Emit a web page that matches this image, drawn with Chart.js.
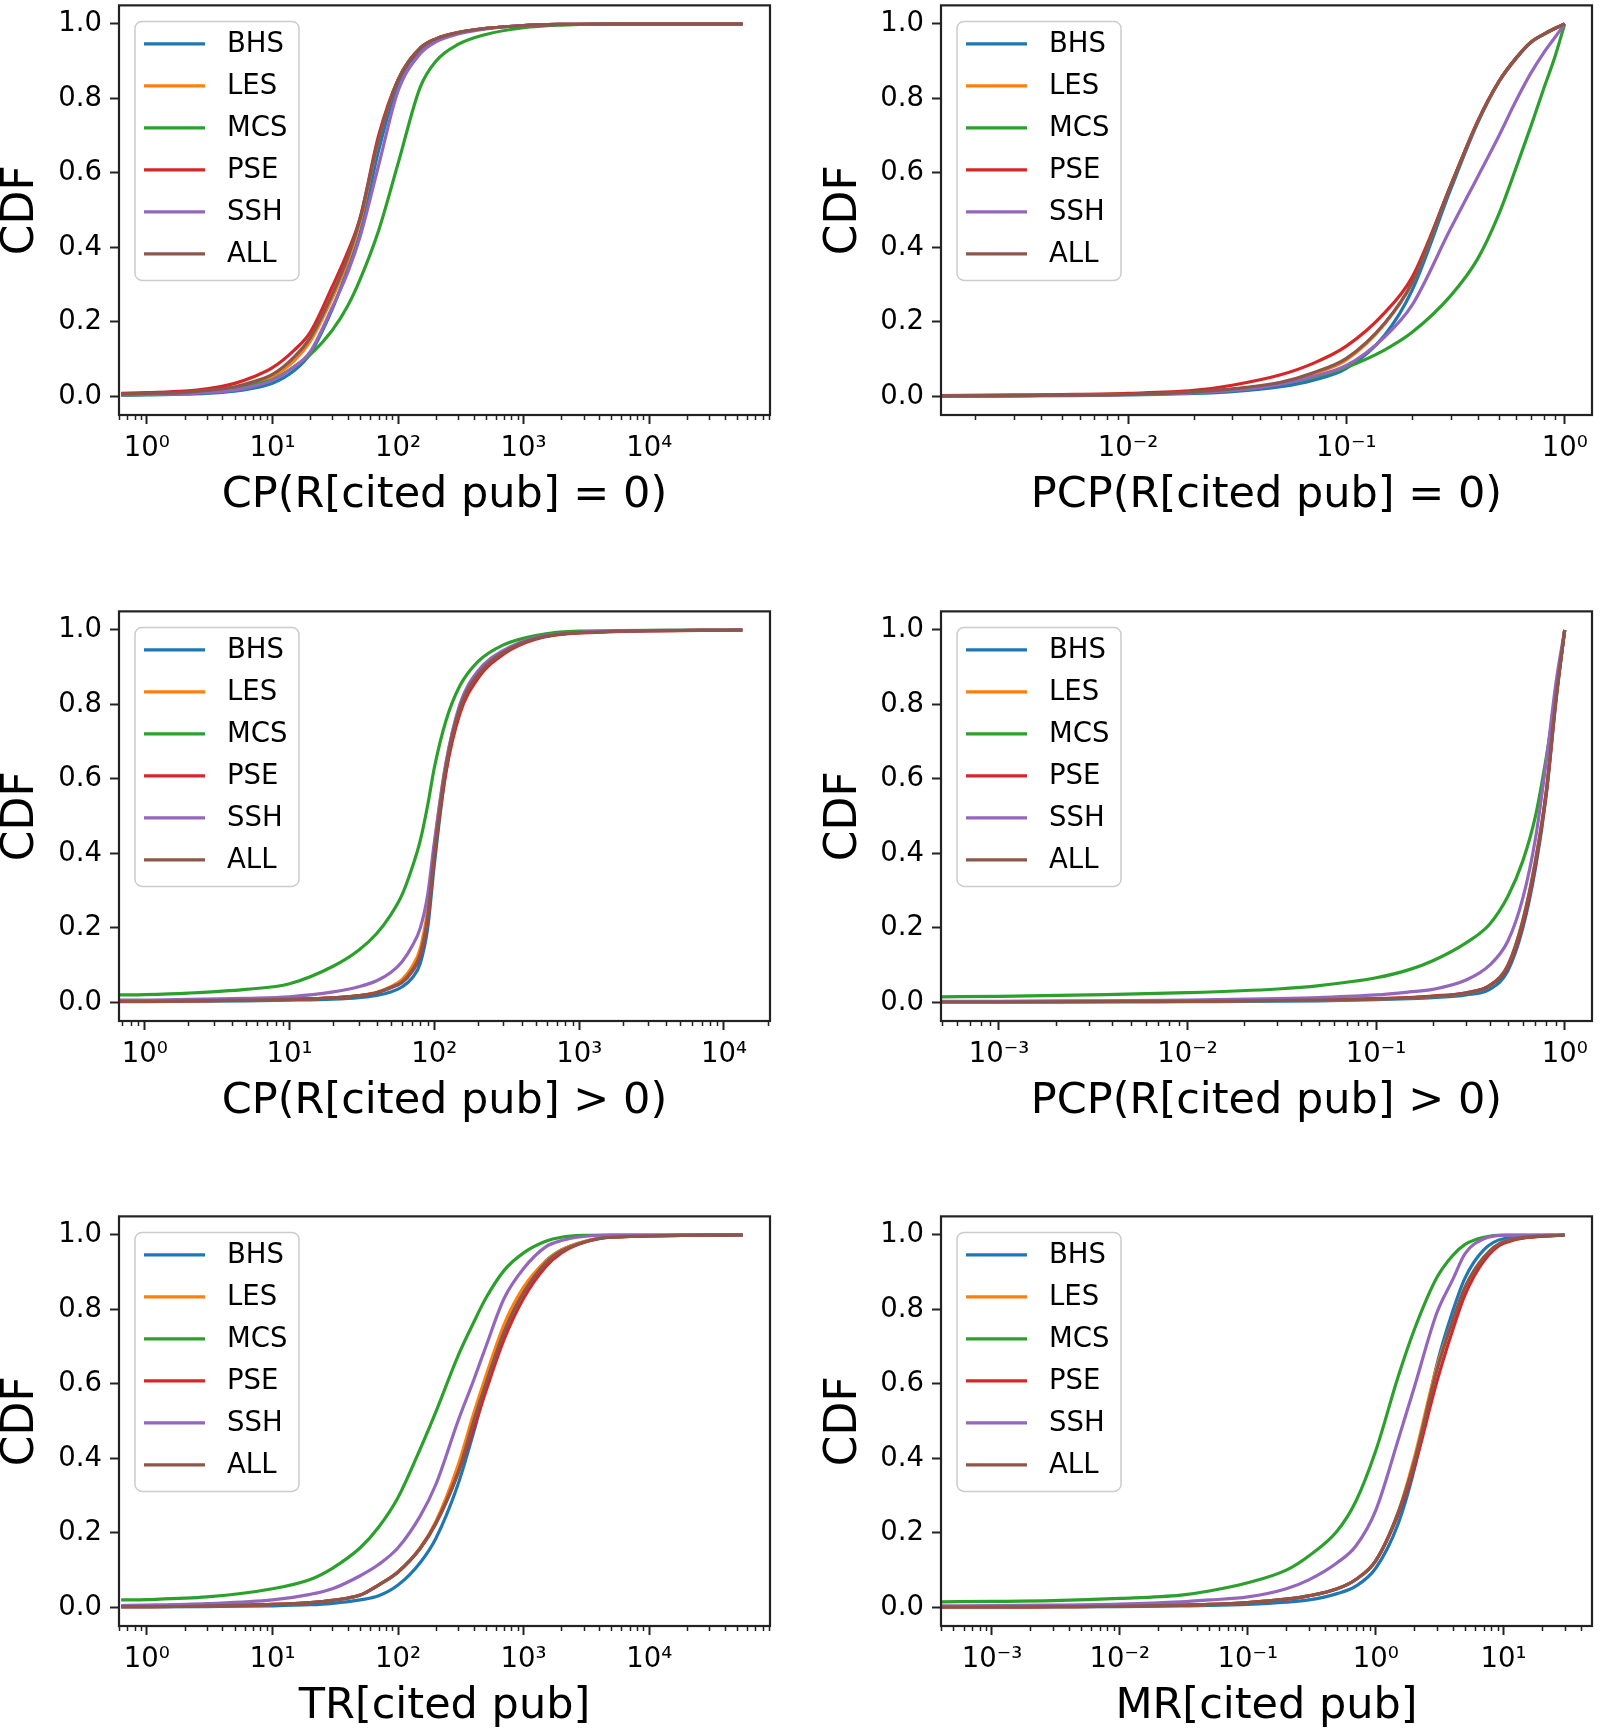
<!DOCTYPE html>
<html>
<head>
<meta charset="utf-8">
<script src="https://cdn.jsdelivr.net/npm/chart.js@4.4.1/dist/chart.umd.min.js"></script>
<style>
  body { margin: 0; background: #fff; width: 1600px; height: 1733px; overflow: hidden; position: relative; }
  .panel { position: absolute; }
</style>
</head>
<body>
<div class="panel" style="left:0;top:-4px"><canvas id="c1" width="800" height="524"></canvas></div>
<div class="panel" style="left:800px;top:-4px"><canvas id="c2" width="800" height="524"></canvas></div>
<div class="panel" style="left:0;top:602px"><canvas id="c3" width="800" height="524"></canvas></div>
<div class="panel" style="left:800px;top:602px"><canvas id="c4" width="800" height="524"></canvas></div>
<div class="panel" style="left:0;top:1207px"><canvas id="c5" width="800" height="524"></canvas></div>
<div class="panel" style="left:800px;top:1207px"><canvas id="c6" width="800" height="524"></canvas></div>
<script>
const groups = ['BHS', 'LES', 'MCS', 'PSE', 'SSH', 'ALL'];
const colors = ['#1f77b4', '#ff7f0e', '#2ca02c', '#d62728', '#9467bd', '#8c564b'];
const yTicks = [0, 0.2, 0.4, 0.6, 0.8, 1.0];

// CP(R[cited pub] = 0)
const cp0X   = [0.624, 1, 2, 3, 5, 7, 10, 15, 20, 30, 40, 50, 70, 100, 150, 200, 300, 500, 1000, 2000, 5000, 55500];
const cp0BHS = [0.003, 0.004, 0.006, 0.008, 0.014, 0.022, 0.035, 0.07, 0.115, 0.235, 0.345, 0.44, 0.66, 0.84, 0.93, 0.958, 0.976, 0.988, 0.996, 0.999, 1, 1];
const cp0LES = [0.005, 0.007, 0.01, 0.014, 0.023, 0.034, 0.053, 0.097, 0.148, 0.265, 0.365, 0.47, 0.69, 0.85, 0.935, 0.96, 0.977, 0.988, 0.996, 0.999, 1, 1];
const cp0MCS = [0.004, 0.005, 0.008, 0.012, 0.021, 0.032, 0.045, 0.08, 0.112, 0.178, 0.245, 0.315, 0.445, 0.625, 0.83, 0.9, 0.945, 0.972, 0.99, 0.997, 1, 1];
const cp0PSE = [0.008, 0.01, 0.014, 0.02, 0.035, 0.052, 0.077, 0.125, 0.172, 0.295, 0.39, 0.48, 0.70, 0.85, 0.935, 0.96, 0.977, 0.988, 0.996, 0.999, 1, 1];
const cp0SSH = [0.004, 0.005, 0.007, 0.01, 0.017, 0.027, 0.043, 0.08, 0.12, 0.24, 0.335, 0.43, 0.62, 0.82, 0.92, 0.952, 0.973, 0.987, 0.996, 0.999, 1, 1];
const cp0ALL = [0.006, 0.008, 0.011, 0.016, 0.026, 0.039, 0.059, 0.107, 0.158, 0.275, 0.375, 0.48, 0.69, 0.85, 0.935, 0.96, 0.977, 0.988, 0.996, 0.999, 1, 1];

// PCP(R[cited pub] = 0)
const pcp0X   = [0.00139, 0.003, 0.005, 0.01, 0.02, 0.03, 0.05, 0.07, 0.1, 0.15, 0.2, 0.3, 0.4, 0.5, 0.6, 0.7, 0.8, 0.9, 1.0];
const pcp0BHS = [0.0005, 0.001, 0.002, 0.004, 0.008, 0.013, 0.026, 0.043, 0.075, 0.165, 0.285, 0.555, 0.735, 0.845, 0.908, 0.95, 0.972, 0.988, 1];
const pcp0LES = [0.001, 0.002, 0.003, 0.005, 0.011, 0.018, 0.036, 0.06, 0.098, 0.195, 0.305, 0.565, 0.738, 0.846, 0.909, 0.951, 0.972, 0.988, 1];
const pcp0MCS = [0.001, 0.002, 0.003, 0.006, 0.012, 0.019, 0.034, 0.05, 0.078, 0.125, 0.172, 0.27, 0.37, 0.49, 0.615, 0.725, 0.825, 0.91, 1];
const pcp0PSE = [0.002, 0.004, 0.005, 0.008, 0.016, 0.03, 0.058, 0.088, 0.135, 0.225, 0.32, 0.565, 0.74, 0.846, 0.909, 0.951, 0.972, 0.988, 1];
const pcp0SSH = [0.001, 0.002, 0.003, 0.005, 0.01, 0.016, 0.033, 0.053, 0.083, 0.16, 0.245, 0.45, 0.59, 0.70, 0.795, 0.868, 0.922, 0.963, 1];
const pcp0ALL = [0.001, 0.002, 0.003, 0.005, 0.012, 0.02, 0.038, 0.063, 0.102, 0.197, 0.305, 0.565, 0.738, 0.846, 0.909, 0.951, 0.972, 0.988, 1];

// CP(R[cited pub] > 0)
const cpPosX   = [0.664, 1, 2, 5, 10, 20, 30, 40, 50, 60, 70, 80, 90, 100, 120, 150, 200, 300, 500, 1000, 13400];
const cpPosBHS = [0.002, 0.002, 0.003, 0.004, 0.006, 0.009, 0.013, 0.019, 0.028, 0.042, 0.065, 0.105, 0.2, 0.37, 0.62, 0.785, 0.878, 0.94, 0.977, 0.993, 1];
const cpPosLES = [0.003, 0.003, 0.004, 0.006, 0.008, 0.012, 0.018, 0.027, 0.042, 0.062, 0.095, 0.145, 0.25, 0.42, 0.64, 0.795, 0.882, 0.94, 0.977, 0.993, 1];
const cpPosMCS = [0.02, 0.021, 0.025, 0.035, 0.05, 0.097, 0.14, 0.185, 0.235, 0.29, 0.36, 0.435, 0.53, 0.63, 0.755, 0.85, 0.915, 0.96, 0.985, 0.997, 1];
const cpPosPSE = [0.003, 0.003, 0.004, 0.006, 0.008, 0.012, 0.018, 0.026, 0.039, 0.054, 0.082, 0.125, 0.22, 0.39, 0.615, 0.775, 0.87, 0.935, 0.975, 0.992, 1];
const cpPosSSH = [0.006, 0.006, 0.008, 0.011, 0.015, 0.028, 0.042, 0.058, 0.08, 0.11, 0.15, 0.2, 0.29, 0.43, 0.64, 0.8, 0.89, 0.945, 0.98, 0.994, 1];
const cpPosALL = [0.003, 0.003, 0.004, 0.006, 0.008, 0.012, 0.018, 0.026, 0.04, 0.055, 0.085, 0.13, 0.23, 0.40, 0.63, 0.79, 0.88, 0.94, 0.977, 0.993, 1];

// PCP(R[cited pub] > 0)
const pcpPosX   = [0.000493, 0.001, 0.003, 0.01, 0.03, 0.05, 0.1, 0.15, 0.2, 0.3, 0.4, 0.5, 0.6, 0.7, 0.8, 0.9, 1.0];
const pcpPosBHS = [0.001, 0.001, 0.001, 0.002, 0.003, 0.004, 0.007, 0.01, 0.013, 0.02, 0.035, 0.085, 0.2, 0.36, 0.56, 0.81, 1];
const pcpPosLES = [0.001, 0.001, 0.002, 0.003, 0.005, 0.006, 0.009, 0.012, 0.016, 0.025, 0.045, 0.1, 0.22, 0.38, 0.57, 0.82, 1];
const pcpPosMCS = [0.015, 0.016, 0.02, 0.026, 0.036, 0.045, 0.066, 0.088, 0.112, 0.16, 0.21, 0.285, 0.38, 0.5, 0.66, 0.83, 1];
const pcpPosPSE = [0.002, 0.002, 0.003, 0.004, 0.006, 0.007, 0.01, 0.013, 0.017, 0.026, 0.045, 0.095, 0.21, 0.37, 0.565, 0.815, 1];
const pcpPosSSH = [0.003, 0.003, 0.004, 0.006, 0.01, 0.013, 0.02, 0.028, 0.035, 0.06, 0.1, 0.165, 0.28, 0.44, 0.65, 0.86, 1];
const pcpPosALL = [0.001, 0.001, 0.002, 0.003, 0.005, 0.006, 0.009, 0.012, 0.016, 0.025, 0.045, 0.1, 0.22, 0.38, 0.57, 0.82, 1];

// TR[cited pub]
const trX   = [0.624, 1, 3, 10, 20, 30, 50, 70, 100, 150, 200, 300, 400, 500, 700, 1000, 1500, 2000, 3000, 5000, 55500];
const trBHS = [0.001, 0.001, 0.002, 0.004, 0.007, 0.011, 0.02, 0.031, 0.06, 0.12, 0.185, 0.33, 0.47, 0.59, 0.74, 0.85, 0.93, 0.96, 0.982, 0.995, 1];
const trLES = [0.002, 0.002, 0.004, 0.008, 0.013, 0.019, 0.033, 0.06, 0.095, 0.16, 0.23, 0.38, 0.52, 0.62, 0.76, 0.86, 0.93, 0.96, 0.982, 0.995, 1];
const trMCS = [0.02, 0.021, 0.028, 0.05, 0.075, 0.105, 0.16, 0.215, 0.295, 0.425, 0.525, 0.675, 0.765, 0.83, 0.905, 0.952, 0.983, 0.994, 0.999, 1, 1];
const trPSE = [0.002, 0.002, 0.004, 0.008, 0.013, 0.019, 0.033, 0.06, 0.095, 0.158, 0.225, 0.36, 0.48, 0.58, 0.72, 0.83, 0.915, 0.952, 0.98, 0.994, 1];
const trSSH = [0.005, 0.006, 0.01, 0.02, 0.035, 0.05, 0.085, 0.115, 0.16, 0.245, 0.33, 0.5, 0.61, 0.70, 0.83, 0.91, 0.968, 0.985, 0.996, 1, 1];
const trALL = [0.002, 0.002, 0.004, 0.008, 0.013, 0.019, 0.033, 0.06, 0.095, 0.158, 0.225, 0.36, 0.5, 0.6, 0.74, 0.845, 0.925, 0.957, 0.98, 0.994, 1];

// MR[cited pub]
const mrX   = [0.0004, 0.001, 0.003, 0.01, 0.03, 0.05, 0.1, 0.2, 0.3, 0.5, 0.7, 1, 1.5, 2, 3, 4, 5, 7, 10, 30];
const mrBHS = [0.001, 0.001, 0.001, 0.002, 0.004, 0.005, 0.008, 0.014, 0.02, 0.037, 0.057, 0.105, 0.225, 0.37, 0.65, 0.795, 0.885, 0.96, 0.99, 1];
const mrLES = [0.001, 0.001, 0.002, 0.003, 0.006, 0.008, 0.013, 0.022, 0.031, 0.05, 0.075, 0.125, 0.255, 0.4, 0.645, 0.77, 0.86, 0.94, 0.982, 1];
const mrMCS = [0.015, 0.016, 0.018, 0.024, 0.033, 0.044, 0.066, 0.1, 0.138, 0.205, 0.285, 0.42, 0.62, 0.745, 0.885, 0.945, 0.975, 0.994, 1, 1];
const mrPSE = [0.001, 0.001, 0.002, 0.003, 0.006, 0.008, 0.013, 0.022, 0.031, 0.05, 0.075, 0.125, 0.25, 0.375, 0.605, 0.745, 0.84, 0.93, 0.978, 1];
const mrSSH = [0.004, 0.005, 0.006, 0.009, 0.015, 0.02, 0.028, 0.05, 0.074, 0.12, 0.165, 0.26, 0.45, 0.59, 0.79, 0.88, 0.95, 0.99, 0.999, 1];
const mrALL = [0.001, 0.001, 0.002, 0.003, 0.006, 0.008, 0.013, 0.022, 0.031, 0.05, 0.075, 0.125, 0.255, 0.39, 0.635, 0.77, 0.86, 0.94, 0.982, 1];

Chart.defaults.font.family = "'DejaVu Sans', sans-serif";
Chart.defaults.color = '#000';

const sup = { '-': '\u207b', '0': '\u2070', '1': '\u00b9', '2': '\u00b2', '3': '\u00b3', '4': '\u2074' };
function decadeLabel(v) {
  const e = Math.round(Math.log10(v));
  return '10' + String(e).split('').map(c => sup[c]).join('');
}

// frame, minor log ticks and the in-axes legend (matplotlib look)
const mplLook = {
  id: 'mplLook',
  afterDatasetsDraw(chart) {
    const ctx = chart.ctx;
    const a = chart.chartArea;
    const xs = chart.scales.x;
    ctx.save();
    ctx.strokeStyle = '#222';
    ctx.lineWidth = 1.5;
    ctx.beginPath();
    const e0 = Math.floor(Math.log10(xs.min)), e1 = Math.ceil(Math.log10(xs.max));
    for (let e = e0; e <= e1; e++) {
      for (let m = 2; m <= 9; m++) {
        const v = m * Math.pow(10, e);
        if (v < xs.min || v > xs.max) continue;
        const px = Math.round(xs.getPixelForValue(v)) + 0.5;
        ctx.moveTo(px, a.bottom);
        ctx.lineTo(px, a.bottom + 5);
      }
    }
    ctx.stroke();

    // legend box
    const L = a.left + 16, T = a.top + 16;
    ctx.fillStyle = 'rgba(255,255,255,0.8)';
    ctx.strokeStyle = '#cccccc';
    ctx.lineWidth = 1.5;
    ctx.beginPath();
    ctx.roundRect(L, T, 164, 259, 7);
    ctx.fill();
    ctx.stroke();
    ctx.font = "27.5px 'DejaVu Sans'";
    ctx.textBaseline = 'middle';
    ctx.textAlign = 'left';
    chart.data.datasets.forEach((ds, i) => {
      const y = T + 22.5 + i * 42;
      ctx.strokeStyle = ds.borderColor;
      ctx.lineWidth = 3.2;
      ctx.beginPath();
      ctx.moveTo(L + 9, y);
      ctx.lineTo(L + 70, y);
      ctx.stroke();
      ctx.fillStyle = '#000';
      ctx.fillText(ds.label, L + 92, y + 1);
    });

    // axes frame
    ctx.strokeStyle = '#222';
    ctx.lineWidth = 2.2;
    ctx.strokeRect(a.left, a.top, a.right - a.left, a.bottom - a.top);
    ctx.restore();
  }
};

function makePanel(id, xs, series, xMin, xMax, xTitle, rightCol) {
  const datasets = series.map((ys, i) => ({
    label: groups[i],
    data: xs.map((x, j) => ({ x: x, y: ys[j] })),
    borderColor: colors[i],
    backgroundColor: colors[i],
    borderWidth: 3.2,
    pointRadius: 0,
    cubicInterpolationMode: 'monotone',
    order: series.length - 1 - i
  }));
  new Chart(document.getElementById(id).getContext('2d'), {
    type: 'line',
    data: { datasets: datasets },
    plugins: [mplLook],
    options: {
      responsive: false,
      animation: false,
      devicePixelRatio: 1,
      layout: { padding: { left: 0, top: 0, right: rightCol ? 8 : 30, bottom: 0 } },
      plugins: { legend: { display: false }, tooltip: { enabled: false } },
      scales: {
        x: {
          type: 'logarithmic',
          min: xMin,
          max: xMax,
          border: { display: false },
          grid: { drawOnChartArea: false, tickLength: 9, tickWidth: 2, tickColor: '#222' },
          ticks: { autoSkip: false, maxRotation: 0, padding: 8, font: { size: 27.5 }, callback: v => decadeLabel(v) },
          afterBuildTicks: s => {
            const t = [];
            for (let e = Math.ceil(Math.log10(s.min) - 1e-9); Math.pow(10, e) <= s.max; e++) t.push({ value: Math.pow(10, e), major: true });
            s.ticks = t;
          },
          afterFit: s => { s.height = 105; },
          title: { display: true, text: xTitle, font: { size: 43, lineHeight: 1 }, padding: { top: 0, bottom: 3 } }
        },
        y: {
          type: 'linear',
          min: -0.05,
          max: 1.05,
          border: { display: false },
          grid: { drawOnChartArea: false, tickLength: 9, tickWidth: 2, tickColor: '#222' },
          // small lineHeight keeps chart.js from adding top padding for the 1.0 label
          ticks: { padding: 8, font: { size: 27.5, lineHeight: 0.1 }, callback: v => v.toFixed(1) },
          afterBuildTicks: s => { s.ticks = yTicks.map(v => ({ value: v })); },
          afterFit: s => { s.width = rightCol ? 141 : 119; },
          title: { display: true, text: 'CDF', font: { size: 44, lineHeight: 1 }, padding: { top: rightCol ? 23 : 0, bottom: 0 } }
        }
      }
    }
  });
}

makePanel('c1', cp0X, [cp0BHS, cp0LES, cp0MCS, cp0PSE, cp0SSH, cp0ALL], 0.624, 91600, 'CP(R[cited pub] = 0)', false);
makePanel('c2', pcp0X, [pcp0BHS, pcp0LES, pcp0MCS, pcp0PSE, pcp0SSH, pcp0ALL], 0.00139, 1.334, 'PCP(R[cited pub] = 0)', true);
makePanel('c3', cpPosX, [cpPosBHS, cpPosLES, cpPosMCS, cpPosPSE, cpPosSSH, cpPosALL], 0.664, 20800, 'CP(R[cited pub] > 0)', false);
makePanel('c4', pcpPosX, [pcpPosBHS, pcpPosLES, pcpPosMCS, pcpPosPSE, pcpPosSSH, pcpPosALL], 0.000493, 1.396, 'PCP(R[cited pub] > 0)', true);
makePanel('c5', trX, [trBHS, trLES, trMCS, trPSE, trSSH, trALL], 0.624, 91600, 'TR[cited pub]', false);
makePanel('c6', mrX, [mrBHS, mrLES, mrMCS, mrPSE, mrSSH, mrALL], 0.0004, 49.1, 'MR[cited pub]', true);
</script>
</body>
</html>
